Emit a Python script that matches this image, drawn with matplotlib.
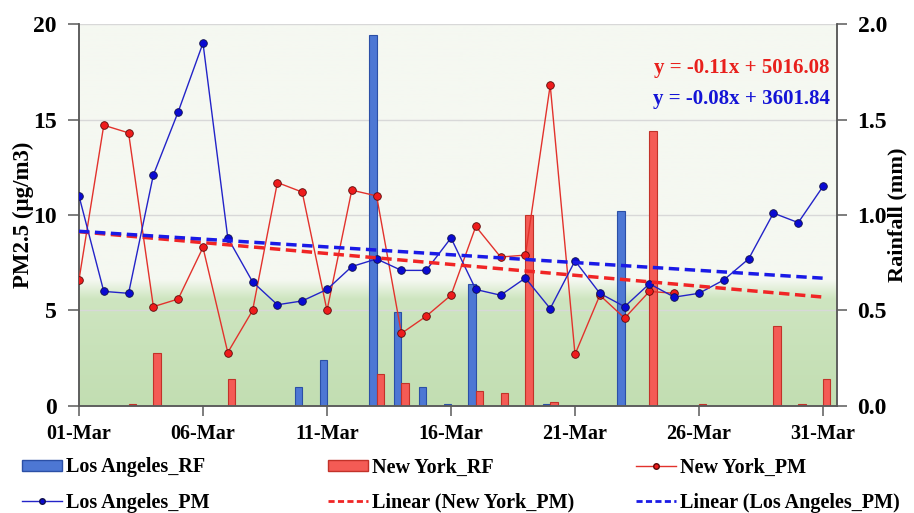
import matplotlib.pyplot as plt
import numpy as np
from matplotlib.patches import Patch
from matplotlib.lines import Line2D

plt.rcParams['font.family'] = ['Liberation Serif', 'DejaVu Serif']
plt.rcParams['font.weight'] = 'bold'

# data (March, day of month)
days = np.arange(1, 32)
tick_days = [1, 6, 11, 16, 21, 26, 31]
tick_labels = ['01-Mar', '06-Mar', '11-Mar', '16-Mar', '21-Mar', '26-Mar', '31-Mar']

la_pm = [11.0, 6.0, 5.9, 12.1, 15.4, 19.0, 8.8, 6.5, 5.3, 5.5, 6.1, 7.3, 7.7, 7.1, 7.1, 8.8,
         6.1, 5.8, 6.7, 5.1, 7.6, 5.9, 5.2, 6.4, 5.7, 5.9, 6.6, 7.7, 10.1, 9.6, 11.5]
ny_pm = [6.6, 14.7, 14.3, 5.2, 5.6, 8.3, 2.8, 5.0, 11.7, 11.2, 5.0, 11.3, 11.0, 3.8, 4.7, 5.8,
         9.4, 7.8, 7.9, 16.8, 2.7, 5.8, 4.6, 6.0, 5.9]
la_rf = [0, 0, 0, 0, 0, 0, 0, 0, 0, 0.10, 0.24, 0, 1.94, 0.49, 0.10, 0.01, 0.64, 0, 0, 0.01,
         0, 0, 1.02, 0, 0, 0, 0, 0, 0, 0, 0]
ny_rf = [0, 0, 0.01, 0.28, 0, 0, 0.14, 0, 0, 0, 0, 0, 0.17, 0.12, 0, 0, 0.08, 0.07, 1.00, 0.02,
         0, 0, 0, 1.44, 0, 0.01, 0, 0, 0.42, 0.01, 0.14]

ny_eq = 'y = -0.11x + 5016.08'
la_eq = 'y = -0.08x + 3601.84'

c_la_bar, c_la_bar_e = '#4d77d4', '#2b4fa6'
c_ny_bar, c_ny_bar_e = '#f45b55', '#c23229'
c_la_line, c_ny_line = '#2323c8', '#e2322c'
c_la_trend, c_ny_trend = '#1a1ae6', '#f02525'
axis_c = '#5a5a5a'

fig = plt.figure(figsize=(9.14, 5.13), dpi=100)
ax2 = fig.add_axes([0.0864, 0.2086, 0.829, 0.7446])   # rainfall (behind)
ax = ax2.twinx()                                        # PM2.5 (front)
ax.yaxis.tick_left()
ax.yaxis.set_label_position('left')
ax2.yaxis.tick_right()
ax2.yaxis.set_label_position('right')
ax.xaxis.set_visible(True)
ax2.xaxis.set_visible(False)

# background: pale top, green lower band
yy = np.linspace(20, 0, 400)
stops = [0, 5.6, 6.6, 20]
r = np.interp(yy, stops, [194, 206, 245, 245])
g = np.interp(yy, stops, [222, 229, 248, 248])
b = np.interp(yy, stops, [178, 192, 241, 241])
bg = np.stack([r, g, b], axis=1)[:, None, :] / 255.0
ax2.imshow(bg, extent=[0, 1, 0, 1], transform=ax2.transAxes, aspect='auto', zorder=0)

# rainfall bars
d = np.array(days)
la_rf_a, ny_rf_a = np.array(la_rf), np.array(ny_rf)
m1, m2 = la_rf_a > 0, ny_rf_a > 0
bw = 0.3
ax2.bar(d[m1] - bw / 2, la_rf_a[m1], width=bw, color=c_la_bar, edgecolor=c_la_bar_e, linewidth=0.8, zorder=2)
ax2.bar(d[m2] + bw / 2, ny_rf_a[m2], width=bw, color=c_ny_bar, edgecolor=c_ny_bar_e, linewidth=0.8, zorder=2)
ax2.set_ylim(0, 2.0)
ax2.set_yticks([0, 0.5, 1.0, 1.5, 2.0])
ax2.set_yticklabels(['0.0', '0.5', '1.0', '1.5', '2.0'])
ax2.grid(axis='y', color='#d8d8d8', linewidth=1)
ax2.set_axisbelow(True)
ax2.set_ylabel('Rainfall (mm)', fontsize=16, fontweight='bold')
ax2.yaxis.set_label_coords(1.0665, 0.5)

# PM2.5 lines and linear trends
ax.patch.set_visible(False)
ax.plot(days, la_pm, color=c_la_line, lw=1, marker='o', ms=5.5, mfc='#0a0ad2', mec='#10104a', mew=0.6, zorder=4)
ax.plot(days[:len(ny_pm)], ny_pm, color=c_ny_line, lw=1, marker='o', ms=5.5, mfc='#ee1c1c', mec='#5a0a0a', mew=0.6, zorder=3)

k_ny, b_ny = np.polyfit(days[:len(ny_pm)], ny_pm, 1)
k_la, b_la = np.polyfit(days, la_pm, 1)
ax.plot(days, k_ny * days + b_ny, color=c_ny_trend, lw=2.5, ls=(0, (3, 1.6)), zorder=5)
ax.plot(days, k_la * days + b_la, color=c_la_trend, lw=2.5, ls=(0, (3, 1.6)), zorder=5)

ax.set_ylim(0, 20)
ax.set_yticks([0, 5, 10, 15, 20])
ax.set_xlim(1, 31.55)
ax.set_xticks(tick_days)
ax.set_xticklabels(tick_labels)
ax.set_ylabel('PM2.5 (μg/m3)', fontsize=16.5, fontweight='bold')
ax.yaxis.set_label_coords(-0.059, 0.5)

for a in (ax, ax2):
    a.spines['top'].set_visible(False)
    for s in ('left', 'right', 'bottom'):
        a.spines[s].set_color(axis_c)
        a.spines[s].set_linewidth(1.1)
ax.tick_params(axis='y', direction='out', length=8, width=1.1, color=axis_c, pad=8, labelsize=17)
ax2.tick_params(axis='y', direction='out', length=7, width=1.1, color=axis_c, pad=8, labelsize=17)
ax.tick_params(axis='x', direction='out', length=7, width=1.1, color=axis_c, pad=6, labelsize=14.5)

fig.text(830 / 914, 1 - 68 / 513, ny_eq, color='#e8201c', fontsize=15, fontweight='bold', ha='right', va='center')
fig.text(830 / 914, 1 - 99 / 513, la_eq, color='#1414d6', fontsize=15, fontweight='bold', ha='right', va='center')

# legend, three columns placed by hand
h_la_rf = Patch(facecolor=c_la_bar, edgecolor=c_la_bar_e, label='Los Angeles_RF')
h_ny_rf = Patch(facecolor=c_ny_bar, edgecolor=c_ny_bar_e, label='New York_RF')
h_ny_pm = Line2D([], [], color=c_ny_line, lw=1, marker='o', ms=4, mfc='#ee1c1c', mec='#5a0a0a', label='New York_PM')
h_la_pm = Line2D([], [], color=c_la_line, lw=1, marker='o', ms=4, mfc='#0a0ad2', mec='#10104a', label='Los Angeles_PM')
h_ny_lin = Line2D([], [], color=c_ny_trend, lw=2, ls=(0, (2.2, 1.2)), label='Linear (New York_PM)')
h_la_lin = Line2D([], [], color=c_la_trend, lw=2, ls=(0, (2.2, 1.2)), label='Linear (Los Angeles_PM)')

for x0, hs in [(22, [h_la_rf, h_la_pm]), (328, [h_ny_rf, h_ny_lin]), (636, [h_ny_pm, h_la_lin])]:
    fig.legend(handles=hs, loc='center left', bbox_to_anchor=(x0 / 914, 1 - 485 / 513),
               frameon=False, handlelength=2.0, handleheight=0.5,
               handletextpad=0.2, labelspacing=0.75, borderpad=0, borderaxespad=0,
               prop={'weight': 'bold', 'size': 14.5})

fig.savefig('out.png', dpi=100)
